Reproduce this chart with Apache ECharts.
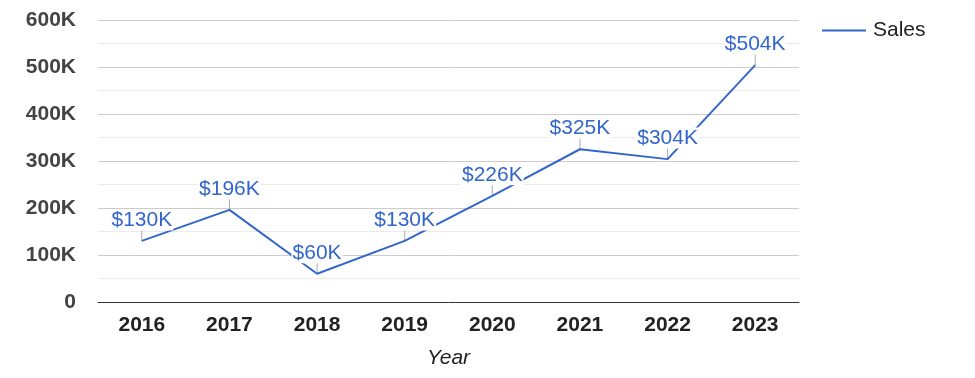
<!DOCTYPE html>
<html>
<head>
<meta charset="utf-8">
<script src="https://cdn.jsdelivr.net/npm/echarts@6/dist/echarts.min.js"></script>
<style>
  html, body { margin: 0; padding: 0; background: #fff; }
  #chart { width: 975px; height: 378px; }
</style>
</head>
<body>
<div id="chart"></div>
<script>
// données
var years = ['2016', '2017', '2018', '2019', '2020', '2021', '2022', '2023'];
var sales = [130000, 196000, 60000, 130000, 226000, 325000, 304000, 504000];

var blue = '#3366cc';
var fontFamily = '"Liberation Sans", Arial, sans-serif';

function fmtK(v) {
  return Math.round(v / 1000) + 'K';
}

var chart = echarts.init(document.getElementById('chart'), null, {renderer: 'canvas'});
var option = {
  animation: false,
  textStyle: {fontFamily: fontFamily},
  grid: {left: 98, right: 176, top: 20, bottom: 76},
  legend: {
    left: 817,
    top: 15,
    icon: 'rect',
    itemWidth: 44,
    itemHeight: 2,
    itemGap: 8,
    itemStyle: {color: blue, opacity: 1},
    textStyle: {fontSize: 21, color: '#222', fontFamily: fontFamily, padding: [0, 0, 0, 2]},
    data: ['Sales']
  },
  xAxis: {
    type: 'category',
    data: years,
    name: 'Year',
    nameLocation: 'middle',
    nameGap: 46,
    nameTextStyle: {fontSize: 21, fontStyle: 'italic', color: '#222', fontFamily: fontFamily},
    axisTick: {show: false},
    axisLine: {lineStyle: {color: '#333', width: 1}},
    axisLabel: {fontSize: 21, fontWeight: 'bold', color: '#222', margin: 13, fontFamily: fontFamily}
  },
  yAxis: {
    type: 'value',
    min: 0,
    max: 600000,
    interval: 100000,
    axisLine: {show: false},
    axisTick: {show: false},
    axisLabel: {
      fontSize: 21, fontWeight: 'bold', color: '#444', margin: 22, fontFamily: fontFamily,
      formatter: function (v) { return v === 0 ? '0' : fmtK(v); }
    },
    splitLine: {lineStyle: {color: '#cccccc', width: 1}},
    minorTick: {show: false, splitNumber: 2},
    minorSplitLine: {show: true, lineStyle: {color: '#ebebeb', width: 1}}
  },
  series: [
    {
      name: 'Sales',
      type: 'line',
      data: sales,
      symbol: 'circle',
      symbolSize: 1,
      showSymbol: true,
      z: 3,
      lineStyle: {color: blue, width: 2},
      itemStyle: {color: blue, opacity: 0},
      label: {
        show: true,
        position: 'top',
        distance: 10,
        color: blue,
        fontSize: 21,
        fontFamily: fontFamily,
        backgroundColor: '#fff',
        padding: [0, 1],
        opacity: 1,
        formatter: function (p) { return '$' + fmtK(p.value); }
      }
    },
    {
      // petits traits gris entre le point et l'étiquette
      name: 'ticks',
      type: 'custom',
      data: sales,
      z: 2,
      silent: true,
      renderItem: function (params, api) {
        var pt = api.coord([api.value(0), api.value(1)]);
        return {
          type: 'line',
          shape: {x1: pt[0], y1: pt[1], x2: pt[0], y2: pt[1] - 11},
          style: {stroke: '#aaaaaa', lineWidth: 1}
        };
      }
    }
  ]
};
chart.setOption(option);
</script>
</body>
</html>
